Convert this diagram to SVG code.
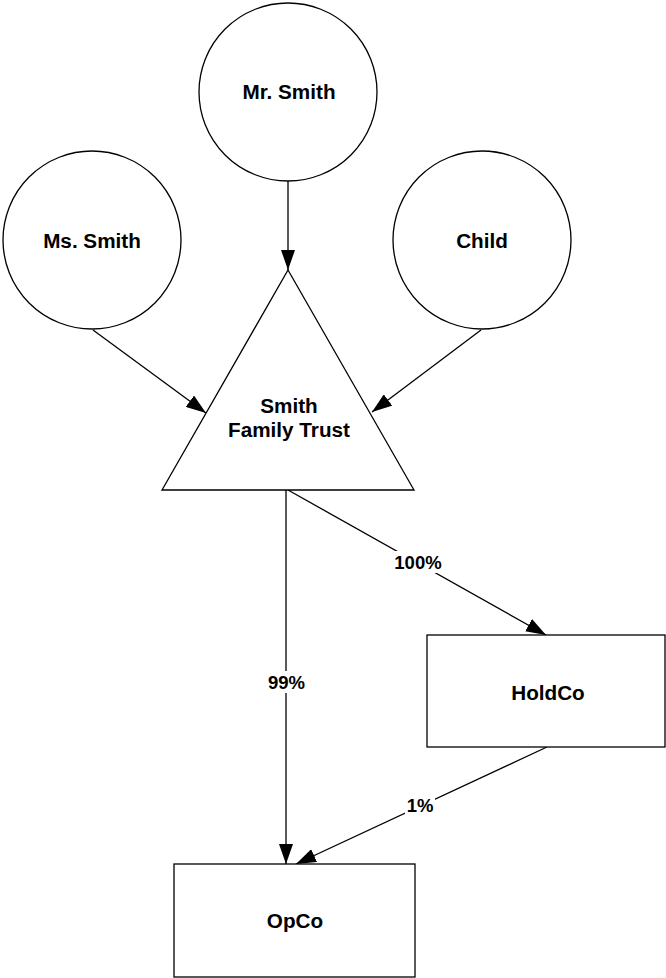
<svg xmlns="http://www.w3.org/2000/svg" width="666" height="978" viewBox="0 0 666 978">
  <style>
    .shape { fill: #ffffff; stroke: #000000; stroke-width: 1.3; }
    .label { font-family: "Liberation Sans", Arial, sans-serif; font-weight: bold; font-size: 20.7px; fill: #000000; text-anchor: middle; dominant-baseline: central; }
    .pct { font-family: "Liberation Sans", Arial, sans-serif; font-weight: bold; font-size: 18.5px; fill: #000000; text-anchor: middle; dominant-baseline: central; }
    .edge { fill: none; stroke: #000000; stroke-width: 1.3; marker-end: url(#arrow); }
    .tagbg { fill: #ffffff; stroke: none; }
  </style>
  <defs>
    <marker id="arrow" viewBox="0 0 20 14" refX="20" refY="7" markerWidth="20" markerHeight="14" markerUnits="userSpaceOnUse" orient="auto">
      <path d="M0,0 L20,7 L0,14 Z" fill="#000000"/>
    </marker>
  </defs>

  <!-- ownership connectors -->
  <g id="connectors">
    <line class="edge" x1="288" y1="181" x2="288" y2="270"/>
    <line class="edge" x1="93" y1="330" x2="206" y2="413"/>
    <line class="edge" x1="481" y1="330" x2="372" y2="412"/>
    <line class="edge" x1="286" y1="490" x2="286" y2="864"/>
    <line class="edge" x1="288" y1="490" x2="546" y2="635"/>
    <line class="edge" x1="547" y1="747" x2="296" y2="864"/>
    <rect class="tagbg" x="265" y="671" width="43" height="22"/>
    <text class="pct" x="286.5" y="682">99%</text>
    <rect class="tagbg" x="393" y="551" width="50" height="22"/>
    <text class="pct" x="418" y="562">100%</text>
    <rect class="tagbg" x="405" y="794" width="30" height="22"/>
    <text class="pct" x="420" y="805">1%</text>
  </g>

  <g id="mr-smith">
    <circle class="shape" cx="288" cy="92" r="89"/>
    <text class="label" x="289" y="91">Mr. Smith</text>
  </g>

  <g id="ms-smith">
    <circle class="shape" cx="92" cy="240" r="89"/>
    <text class="label" x="92" y="240">Ms. Smith</text>
  </g>

  <g id="child">
    <circle class="shape" cx="482" cy="240" r="89"/>
    <text class="label" x="482" y="240">Child</text>
  </g>

  <g id="smith-family-trust">
    <polygon class="shape" points="288,270 414,490 162,490"/>
    <text class="label" x="289" y="405">Smith</text>
    <text class="label" x="289" y="429">Family Trust</text>
  </g>

  <g id="holdco">
    <rect class="shape" x="427" y="635" width="238" height="112"/>
    <text class="label" x="548" y="692">HoldCo</text>
  </g>

  <g id="opco">
    <rect class="shape" x="174" y="864" width="241" height="113"/>
    <text class="label" x="295" y="920">OpCo</text>
  </g>
</svg>
